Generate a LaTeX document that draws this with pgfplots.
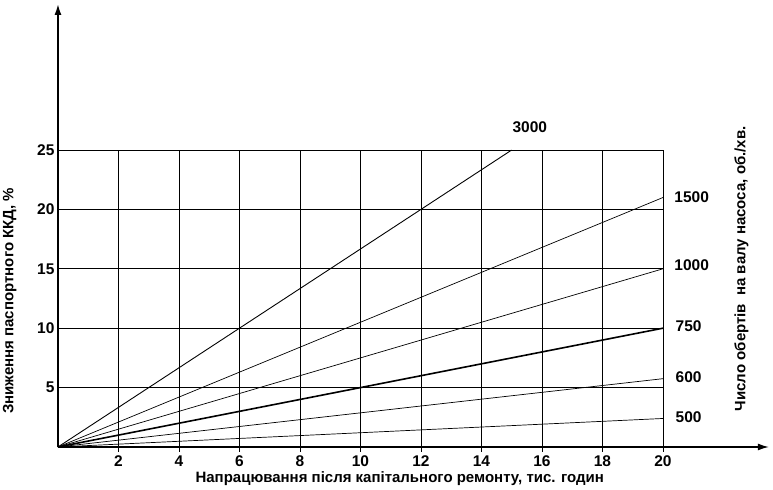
\documentclass[border=0pt]{standalone}
\usepackage{fontspec}
\setmainfont{Liberation Sans}
\usepackage{pgfplots}
\pgfplotsset{compat=1.18}
\usetikzlibrary{arrows.meta}

\begin{document}
\begin{tikzpicture}
\begin{axis}[
    x=30.25pt, y=11.88pt,
    xmin=0, xmax=23.5,
    ymin=0, ymax=37.3,
    axis lines=left,
    x axis line style={-{Latex[length=11pt,width=7pt]}, line width=1.2pt},
    y axis line style={-{Latex[length=11pt,width=7pt]}, line width=1.8pt},
    xtick={2,4,...,20},
    ytick={5,10,...,25},
    major tick length=0pt,
    tick label style={font=\fontsize{15.5}{17}\selectfont\bfseries},
    /pgf/number format/assume math mode=true,
    xticklabel style={yshift=-5pt},
    yticklabel style={xshift=0pt},
    clip=false,
]
% grid
\foreach \i in {2,4,...,20} {
    \edef\tmp{\noexpand\draw[line width=0.8pt] (axis cs:\i,-0.4) -- (axis cs:\i,25);}
    \tmp
}
\foreach \j in {5,10,...,25} {
    \edef\tmp{\noexpand\draw[line width=0.8pt] (axis cs:0,\j) -- (axis cs:20,\j);}
    \tmp
}

% 3000
\addplot[black, line width=0.9pt] coordinates {(0,0) (15,25)};
% 1500
\addplot[black, line width=0.7pt] coordinates {(0,0) (20,21)};
% 1000
\addplot[black, line width=0.7pt] coordinates {(0,0) (20,15)};
% 750
\addplot[black, line width=1.6pt] coordinates {(0,0) (20,10)};
% 600
\addplot[black, line width=0.7pt] coordinates {(0,0) (20,5.75)};
% 500
\addplot[black, line width=0.7pt] coordinates {(0,0) (20,2.4)};

\begin{scope}[every node/.style={font=\fontsize{15.5}{17}\selectfont\bfseries}]
\node at (axis cs:15.6,26.9) {3000};
\node at (axis cs:20.95,21.0) {1500};
\node at (axis cs:20.95,15.3) {1000};
\node at (axis cs:20.85,10.2) {750};
\node at (axis cs:20.85,5.9) {600};
\node at (axis cs:20.85,2.5) {500};
\end{scope}

\node[rotate=90, font=\fontsize{15}{17}\selectfont\bfseries] at (axis cs:22.6,15.0) {Число обертів\ \ на валу насоса, об./хв.};
\node[rotate=90, font=\fontsize{15}{17}\selectfont\bfseries] at (axis cs:-1.6,12.3) {Зниження паспортного ККД, \%};
\node[font=\fontsize{15}{17}\selectfont\bfseries] at (axis cs:11.3,-2.65) {Напрацювання після капітального ремонту, тис. годин};

\coordinate (bbsw) at (axis cs:-1.917,-3.62);
\coordinate (bbne) at (axis cs:23.64,37.63);
\end{axis}
\pgfresetboundingbox
\path (bbsw) rectangle (bbne);
\end{tikzpicture}
\end{document}
